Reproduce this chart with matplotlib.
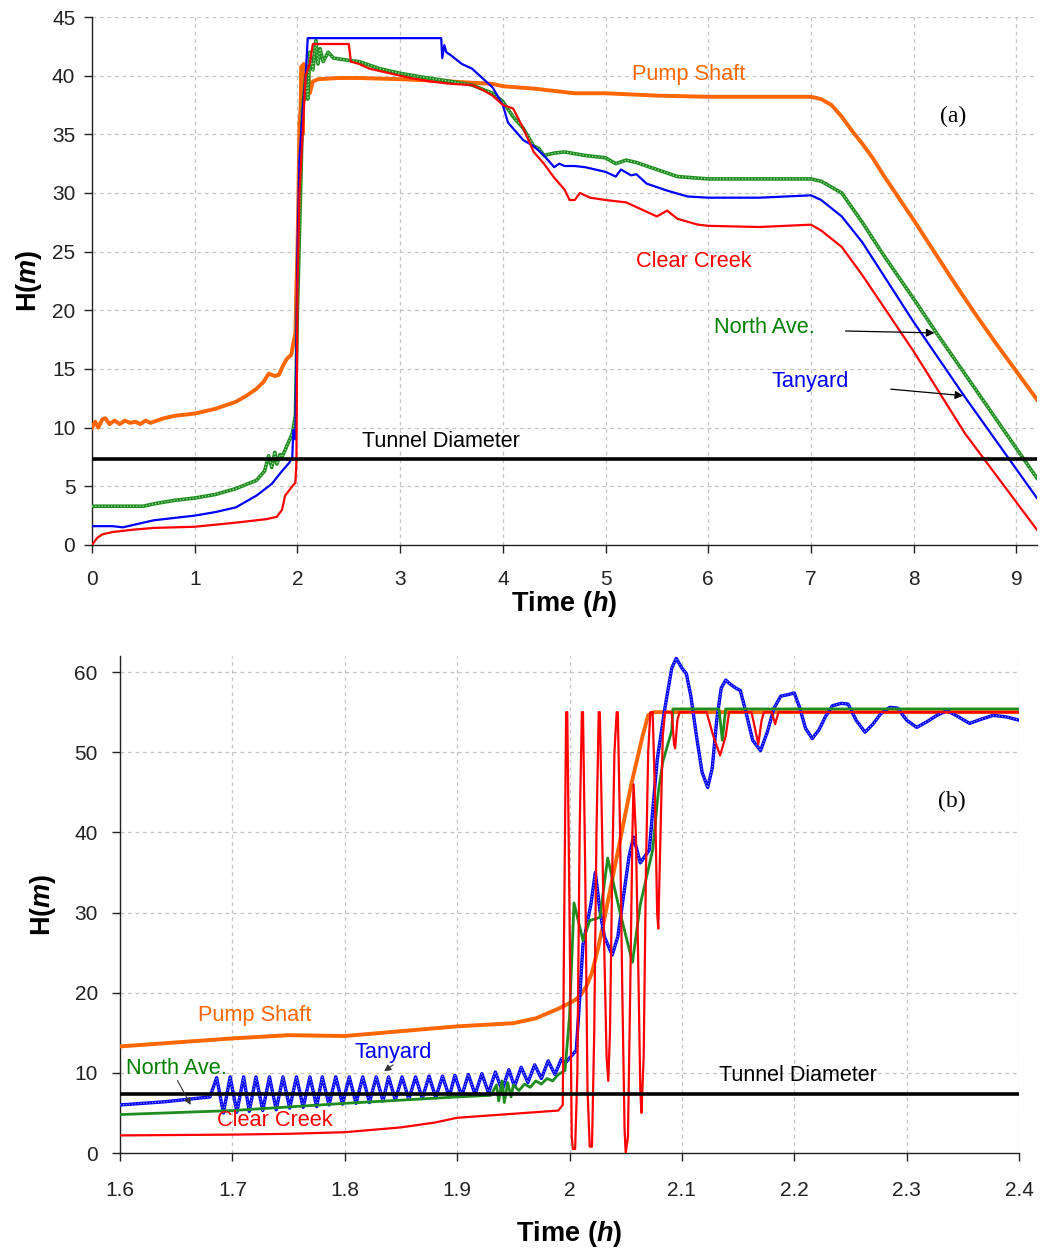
import matplotlib
matplotlib.use("Agg")
import matplotlib.pyplot as plt
from matplotlib.ticker import FuncFormatter, MultipleLocator

plt.rcParams['font.family'] = ['Liberation Sans', 'DejaVu Sans']
plt.rcParams['mathtext.fontset'] = 'custom'
plt.rcParams['mathtext.bf'] = 'Liberation Sans:bold'
plt.rcParams['mathtext.it'] = 'Liberation Sans:italic:bold'
plt.rcParams['mathtext.rm'] = 'Liberation Sans:bold'

# ---------------- Panel (a) data ----------------
pump_a_t = [0, 0.03, 0.06, 0.1, 0.13, 0.17, 0.22, 0.27, 0.32, 0.37, 0.42, 0.47, 0.52, 0.57, 0.6,
            0.7, 0.8, 0.9, 1.0, 1.1, 1.2, 1.3, 1.4, 1.5, 1.6, 1.67, 1.72, 1.78, 1.82, 1.86, 1.9,
            1.94, 1.96, 1.98, 1.99, 2.0, 2.01, 2.02, 2.03, 2.04, 2.05, 2.06, 2.07, 2.08, 2.1, 2.12,
            2.15, 2.2, 2.4, 2.6, 3.0, 3.5, 3.9, 4.0, 4.3, 4.5, 4.7, 5.0, 5.5, 6.0, 6.5, 7.0, 7.1,
            7.2, 7.3, 7.4, 7.5, 7.6, 7.7, 7.8, 7.9, 8.0, 8.2, 8.4, 8.6, 8.8, 9.0, 9.2]
pump_a_h = [10.0, 10.5, 10.0, 10.7, 10.8, 10.3, 10.6, 10.3, 10.6, 10.4, 10.5, 10.3, 10.6, 10.4, 10.5,
            10.8, 11.0, 11.1, 11.2, 11.4, 11.6, 11.9, 12.2, 12.7, 13.3, 13.9, 14.6, 14.4, 14.5, 15.3, 15.9,
            16.2, 17.2, 18.0, 22.0, 25.0, 30.0, 36.0, 37.0, 40.8, 35.0, 41.0, 38.0, 39.0, 40.8, 38.5,
            39.5, 39.7, 39.8, 39.8, 39.7, 39.5, 39.3, 39.1, 38.9, 38.7, 38.5, 38.5, 38.3, 38.2, 38.2, 38.2, 38.0,
            37.5, 36.5, 35.3, 34.2, 33.0, 31.6, 30.3, 29.0, 27.7, 25.0, 22.3, 19.7, 17.2, 14.8, 12.4]

north_a_t = [0, 0.3, 0.5, 0.6, 0.8, 1.0, 1.2, 1.4, 1.6, 1.68, 1.72, 1.75, 1.78, 1.8, 1.83, 1.85,
             1.9, 1.95, 1.98, 2.0, 2.03, 2.05, 2.08, 2.1, 2.12, 2.15, 2.18, 2.2, 2.22, 2.25, 2.3,
             2.35, 2.5, 2.6, 2.8, 3.0, 3.2, 3.5, 3.7, 3.9, 4.0, 4.1, 4.2, 4.3, 4.35, 4.4, 4.5, 4.6,
             4.8, 5.0, 5.1, 5.2, 5.3, 5.5, 5.7, 6.0, 6.5, 7.0, 7.1, 7.3, 7.5, 7.7, 8.03, 8.22, 8.6,
             9.2]
north_a_h = [3.3, 3.3, 3.3, 3.5, 3.8, 4.0, 4.3, 4.8, 5.5, 6.3, 7.6, 6.6, 7.9, 6.9, 7.7, 7.5,
             8.5, 9.5, 11.0, 20.0, 30.0, 37.0, 40.0, 38.0, 42.0, 40.5, 43.0, 41.0, 42.3, 41.2, 42.0,
             41.5, 41.3, 41.2, 40.6, 40.2, 39.9, 39.5, 39.2, 38.5, 37.8, 36.5, 35.5, 34.0, 33.8, 33.2, 33.4, 33.5,
             33.2, 33.0, 32.5, 32.8, 32.6, 32.0, 31.4, 31.2, 31.2, 31.2, 31.0, 30.0, 27.5, 24.8, 20.6, 18.1, 13.3,
             5.7]

tany_a_t = [0, 0.2, 0.3, 0.4, 0.6, 0.8, 1.0, 1.2, 1.4, 1.6, 1.75, 1.85, 1.92, 1.95, 1.96, 1.98,
            2.0, 2.02, 2.05, 2.08, 2.1, 3.4, 3.41, 3.43, 3.45, 3.5, 3.6, 3.7, 3.8, 3.9, 4.0, 4.05,
            4.1, 4.2, 4.3, 4.4, 4.5, 4.55, 4.6, 4.7, 4.8, 5.0, 5.1, 5.15, 5.25, 5.3, 5.4, 5.6, 5.8,
            6.0, 6.5, 7.0, 7.1, 7.3, 7.5, 8.0, 8.5, 9.2]
tany_a_h = [1.6, 1.6, 1.5, 1.7, 2.1, 2.3, 2.5, 2.8, 3.2, 4.2, 5.2, 6.3, 7.0, 7.5, 9.8, 9.0,
            25.0, 33.0, 37.0, 40.0, 43.2, 43.2, 41.5, 42.6, 42.0, 41.7, 41.0, 40.6, 39.8, 39.0, 37.5, 36.0,
            35.5, 34.5, 34.0, 33.2, 32.2, 32.5, 32.3, 32.3, 32.2, 31.8, 31.4, 32.0, 31.5, 31.6, 30.8, 30.2, 29.7,
            29.6, 29.6, 29.8, 29.4, 28.0, 25.8, 19.0, 12.6, 4.0]

clear_a_t = [0, 0.05, 0.1, 0.2, 0.4, 0.6, 1.0, 1.4, 1.7, 1.8, 1.85, 1.88, 1.95, 1.98, 1.99,
             2.0, 2.02, 2.05, 2.08, 2.12, 2.15, 2.5, 2.52, 2.6, 2.7, 2.9, 3.1, 3.3, 3.5, 3.7, 3.8,
             3.9, 4.0, 4.1, 4.2, 4.3, 4.4, 4.5, 4.6, 4.65, 4.7, 4.75, 4.85, 5.0, 5.2, 5.5, 5.6,
             5.7, 5.9, 6.0, 6.5, 7.0, 7.1, 7.3, 7.5, 8.0, 8.5, 9.2]
clear_a_h = [0.0, 0.6, 0.9, 1.1, 1.3, 1.45, 1.55, 1.9, 2.2, 2.4, 3.0, 4.2, 5.0, 5.3, 7.0,
             22.0, 30.0, 35.0, 40.0, 41.0, 42.7, 42.7, 41.2, 41.0, 40.6, 40.2, 39.8, 39.5, 39.3, 39.2, 38.8,
             38.3, 37.5, 37.2, 35.5, 33.5, 32.5, 31.3, 30.3, 29.4, 29.4, 30.0, 29.6, 29.4, 29.2, 28.0, 28.5,
             27.8, 27.3, 27.2, 27.1, 27.3, 26.8, 25.4, 23.0, 16.5, 9.5, 1.3]

# ---------------- Panel (b) data ----------------
pump_b_t = [1.6, 1.65, 1.7, 1.75, 1.8, 1.85, 1.9, 1.95, 1.97, 1.99, 2.0, 2.005, 2.01, 2.015, 2.02,
            2.025, 2.03, 2.035, 2.04, 2.045, 2.05, 2.055, 2.06, 2.065, 2.07, 2.075, 2.4]
pump_b_h = [13.3, 13.8, 14.3, 14.7, 14.6, 15.2, 15.8, 16.2, 16.8, 18.0, 18.7, 19.1, 19.7, 20.8, 22.5,
            25.3, 28.5, 32.0, 35.5, 39.0, 42.5, 46.0, 49.0, 52.0, 54.6, 55.0, 55.0]

north_b_t = [1.6, 1.7, 1.8, 1.9, 1.93, 1.935, 1.937, 1.94, 1.942, 1.945, 1.948, 1.95, 1.955,
             1.96, 1.965, 1.97, 1.975, 1.98, 1.985, 1.99, 1.996, 2.0, 2.004, 2.012, 2.018, 2.027,
             2.034, 2.045, 2.056, 2.063, 2.074, 2.079, 2.083, 2.091, 2.092, 2.133, 2.136, 2.139, 2.4]
north_b_h = [4.8, 5.3, 6.2, 7.0, 7.2, 8.5, 6.5, 9.0, 6.3, 8.8, 7.0, 8.5, 7.8,
             8.6, 8.2, 9.0, 8.6, 9.3, 9.0, 9.8, 10.3, 17.0, 31.2, 26.5, 29.0, 29.4,
             36.8, 30.0, 23.8, 31.0, 37.8, 45.0, 48.8, 52.7, 55.4, 55.4, 51.5, 55.4, 55.4]

tany_b_t = [1.6, 1.62, 1.64, 1.66, 1.68, 1.686, 1.692, 1.698, 1.704, 1.710, 1.715, 1.721, 1.727,
            1.733, 1.739, 1.745, 1.751, 1.757, 1.763, 1.769, 1.775, 1.780, 1.786, 1.792, 1.798,
            1.804, 1.810, 1.816, 1.822, 1.828, 1.834, 1.839, 1.845, 1.851, 1.857, 1.863, 1.869,
            1.875, 1.881, 1.887, 1.893, 1.898, 1.904, 1.910, 1.916, 1.922, 1.928, 1.934, 1.940,
            1.946, 1.951, 1.957, 1.963, 1.969, 1.975, 1.981, 1.987, 1.993, 1.996, 2.006, 2.008,
            2.012, 2.019, 2.023, 2.027, 2.031, 2.038, 2.043, 2.053, 2.057, 2.063, 2.071, 2.078,
            2.085, 2.091, 2.095, 2.100, 2.104, 2.108, 2.113, 2.118, 2.123, 2.127, 2.131, 2.135,
            2.139, 2.143, 2.148, 2.152, 2.157, 2.163, 2.170, 2.176, 2.182, 2.188, 2.195, 2.200,
            2.205, 2.210, 2.216, 2.222, 2.228, 2.234, 2.242, 2.248, 2.255, 2.263, 2.270, 2.277,
            2.285, 2.292, 2.300, 2.309, 2.318, 2.327, 2.336, 2.345, 2.356, 2.366, 2.377, 2.389, 2.4]
tany_b_h = [6.0, 6.2, 6.4, 6.7, 7.0, 9.4, 5.0, 9.5, 5.1, 9.5, 5.2, 9.5, 5.3,
            9.5, 5.4, 9.5, 5.6, 9.5, 5.7, 9.5, 5.8, 9.5, 6.0, 9.5, 6.1,
            9.5, 6.2, 9.5, 6.3, 9.5, 6.5, 9.5, 6.6, 9.5, 6.7, 9.5, 6.8,
            9.6, 6.9, 9.6, 7.0, 9.7, 7.1, 9.8, 7.3, 9.9, 7.5, 10.1, 7.8,
            10.4, 8.3, 10.7, 8.8, 11.0, 9.3, 11.5, 9.8, 11.8, 11.2, 12.8, 17.0,
            26.0, 31.0, 35.0, 30.3, 27.0, 24.7, 27.0, 37.0, 39.4, 36.2, 37.8, 49.0,
            55.6, 60.5, 61.7, 60.5, 59.8, 57.0, 52.0, 47.5, 45.6, 48.0, 54.0, 58.0,
            59.0, 58.5, 58.0, 57.7, 55.0, 51.5, 50.2, 52.5, 55.5, 57.0, 57.2, 57.4,
            55.5, 53.0, 51.7, 52.8, 54.5, 55.8, 56.1, 56.0, 54.0, 52.5, 53.5, 54.8,
            55.6, 55.5, 54.0, 53.1, 53.8, 54.6, 55.2, 54.5, 53.6, 54.1, 54.6, 54.4, 54.0]

clear_b_t = [1.6, 1.7, 1.75, 1.8, 1.85, 1.88, 1.9, 1.95, 1.99, 1.994, 1.995, 1.997, 1.998,
             2.000, 2.002, 2.003, 2.005, 2.007, 2.009, 2.011, 2.012, 2.014, 2.016, 2.018, 2.020,
             2.022, 2.024, 2.026, 2.027, 2.029, 2.031, 2.033, 2.0345, 2.036, 2.038, 2.040, 2.042,
             2.043, 2.045, 2.047, 2.049, 2.050, 2.052, 2.054, 2.056, 2.057, 2.059, 2.061, 2.063,
             2.064, 2.066, 2.068, 2.070, 2.072, 2.074, 2.076, 2.078, 2.079, 2.081, 2.083, 2.085,
             2.091, 2.093, 2.094, 2.096, 2.098, 2.122, 2.128, 2.134, 2.139, 2.142, 2.162, 2.165,
             2.168, 2.171, 2.173, 2.180, 2.183, 2.186, 2.4]
clear_b_h = [2.2, 2.3, 2.4, 2.6, 3.2, 3.8, 4.4, 4.9, 5.3, 6.0, 25.0, 55.0, 55.0,
             30.0, 2.0, 0.5, 0.5, 10.0, 40.0, 55.0, 55.0, 35.0, 8.0, 0.8, 0.8,
             15.0, 40.0, 55.0, 55.0, 40.0, 25.0, 12.0, 9.0, 15.0, 35.0, 50.0, 55.0,
             55.0, 40.0, 20.0, 3.0, 0.0, 2.0, 20.0, 40.0, 46.0, 40.0, 25.0, 8.0,
             5.0, 12.0, 35.0, 50.0, 55.0, 55.0, 45.0, 30.0, 28.0, 40.0, 52.0, 55.0,
             55.0, 51.0, 50.5, 54.0, 55.0, 55.0, 52.0, 49.6, 52.0, 55.0, 55.0, 53.0,
             51.0, 54.0, 55.0, 55.0, 53.5, 55.0, 55.0]

tunnel_diameter = 7.32

ORANGE = '#FF6600'
RED = '#FF0000'
BLUE = '#0000FF'
GREEN = '#1E8C1E'
GREEN_TXT = '#008000'
LBL = 15.7
TD = 15.5
AXL = 19.5

fig = plt.figure(figsize=(10.4, 12.51), dpi=100)
fig.patch.set_facecolor('white')

ax1 = fig.add_axes([0.0885, 0.5644, 0.9085, 0.4220])
ax2 = fig.add_axes([0.1154, 0.0783, 0.8644, 0.3973])


def style(ax):
    for s in ['top', 'right']:
        ax.spines[s].set_visible(False)
    for s in ['left', 'bottom']:
        ax.spines[s].set_linewidth(1.0)
        ax.spines[s].set_color('#222222')
    ax.grid(True, color='#c4c4c4', linestyle=(0, (3, 3)), linewidth=0.9)
    ax.set_axisbelow(True)
    ax.tick_params(direction='out', length=6, width=1.0, labelsize=15, colors='#222222')
    ax.xaxis.set_major_formatter(FuncFormatter(lambda v, p: '%g' % round(v, 3)))


def hatched(ax, t, h, color, lw):
    ax.plot(t, h, color=color, lw=lw, solid_joinstyle='round', zorder=3)
    ax.plot(t, h, color='#9fdc9f' if color == GREEN else '#8f8fff', lw=lw * 0.35,
            linestyle=(0, (1, 1.5)), zorder=3.1)


# ---------- Panel (a) ----------
style(ax1)
ax1.plot(pump_a_t, pump_a_h, color=ORANGE, lw=2.8, zorder=3)
hatched(ax1, north_a_t, north_a_h, GREEN, 2.6)
ax1.plot(tany_a_t, tany_a_h, color=BLUE, lw=1.6, zorder=4)
ax1.plot(clear_a_t, clear_a_h, color=RED, lw=1.6, zorder=5)
ax1.axhline(tunnel_diameter, color='black', lw=2.6, zorder=6)
ax1.set_xlim(0, 9.2)
ax1.set_ylim(0, 45)
ax1.xaxis.set_major_locator(MultipleLocator(1))
ax1.yaxis.set_major_locator(MultipleLocator(5))
ax1.tick_params(axis='x', pad=12)
ax1.tick_params(axis='y', pad=6)
ax1.set_xlabel(r'$\mathbf{Time\ (}\mathit{h}\mathbf{)}$', fontsize=AXL, labelpad=0)
ax1.set_ylabel(r'$\mathbf{H(}\mathit{m}\mathbf{)}$', fontsize=AXL, labelpad=6)

ax1.text(5.81, 40.07, 'Pump Shaft', color=ORANGE, fontsize=LBL, ha='center', va='center')
ax1.text(5.86, 24.2, 'Clear Creek', color=RED, fontsize=LBL, ha='center', va='center')
ax1.text(6.55, 18.5, 'North Ave.', color=GREEN_TXT, fontsize=LBL, ha='center', va='center')
ax1.text(6.99, 13.9, 'Tanyard', color=BLUE, fontsize=LBL, ha='center', va='center')
ax1.text(3.4, 8.8, 'Tunnel Diameter', color='black', fontsize=TD, ha='center', va='center')
ax1.text(8.38, 36.5, '(a)', color='black', fontsize=17, ha='center', va='center',
         family='Liberation Serif')
ax1.annotate('', xy=(8.23, 18.07), xytext=(7.31, 18.24),
             arrowprops=dict(arrowstyle='-|>', color='black', lw=0.9, mutation_scale=12), zorder=7)
ax1.annotate('', xy=(8.51, 12.7), xytext=(7.75, 13.3),
             arrowprops=dict(arrowstyle='-|>', color='black', lw=0.9, mutation_scale=12), zorder=7)

# ---------- Panel (b) ----------
style(ax2)
ax2.plot(pump_b_t, pump_b_h, color=ORANGE, lw=2.8, zorder=3)
hatched(ax2, tany_b_t, tany_b_h, BLUE, 2.4)
ax2.plot(north_b_t, north_b_h, color=GREEN, lw=2.0, zorder=4)
ax2.plot(clear_b_t, clear_b_h, color=RED, lw=1.6, zorder=5)
ax2.axhline(tunnel_diameter, color='black', lw=2.6, zorder=6)
ax2.set_xlim(1.6, 2.4)
ax2.set_ylim(0, 62)
ax2.xaxis.set_major_locator(MultipleLocator(0.1))
ax2.yaxis.set_major_locator(MultipleLocator(10))
ax2.tick_params(axis='x', pad=14)
ax2.tick_params(axis='y', pad=10)
ax2.set_xlabel(r'$\mathbf{Time\ (}\mathit{h}\mathbf{)}$', fontsize=AXL, labelpad=14)
ax2.set_ylabel(r'$\mathbf{H(}\mathit{m}\mathbf{)}$', fontsize=AXL, labelpad=12)

ax2.text(1.72, 17.1, 'Pump Shaft', color=ORANGE, fontsize=LBL, ha='center', va='center')
ax2.text(1.65, 10.6, 'North Ave.', color=GREEN_TXT, fontsize=LBL, ha='center', va='center', zorder=8)
ax2.text(1.843, 12.6, 'Tanyard', color=BLUE, fontsize=LBL, ha='center', va='center')
ax2.text(1.738, 4.0, 'Clear Creek', color=RED, fontsize=LBL, ha='center', va='center', zorder=8)
ax2.text(2.203, 9.7, 'Tunnel Diameter', color='black', fontsize=TD, ha='center', va='center')
ax2.text(2.34, 43.9, '(b)', color='black', fontsize=17, ha='center', va='center',
         family='Liberation Serif')
ax2.annotate('', xy=(1.664, 5.7), xytext=(1.650, 9.35),
             arrowprops=dict(arrowstyle='-|>', color='#333333', lw=0.8, mutation_scale=10), zorder=7)
ax2.annotate('', xy=(1.833, 10.0), xytext=(1.845, 11.2),
             arrowprops=dict(arrowstyle='-|>', color='#333333', lw=0.8, mutation_scale=10), zorder=7)

fig.savefig('out.png', dpi=100, facecolor='white')
